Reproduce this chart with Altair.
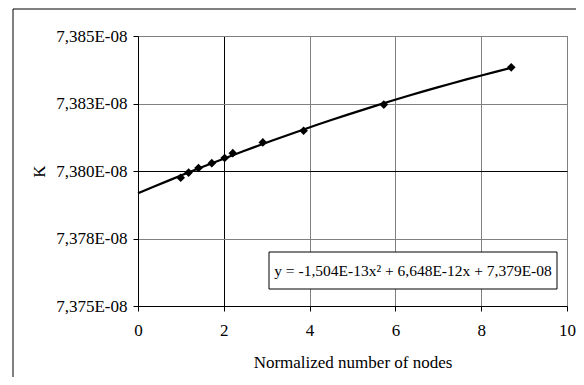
import altair as alt
import pandas as pd

# ---- data ----
nodes = [0.995, 1.18, 1.41, 1.72, 2.02, 2.21, 2.91, 3.86, 5.73, 8.70]
k_values = [7.37975e-08, 7.37994e-08, 7.38011e-08, 7.38029e-08, 7.38048e-08,
            7.38066e-08, 7.38106e-08, 7.38149e-08, 7.38246e-08, 7.38384e-08]
x_ticks = [0, 2, 4, 6, 8, 10]
y_ticks = [7.375e-08, 7.3775e-08, 7.38e-08, 7.3825e-08, 7.385e-08]
equation = "y = -1,504E-13x\u00b2 + 6,648E-12x + 7,379E-08"
x_title = "Normalized number of nodes"
y_title = "K"

FONT = "'Liberation Serif', 'DejaVu Serif', serif"
FS = 17
W, H = 429, 270

df = pd.DataFrame({"x": nodes, "k": k_values})

x_scale = alt.Scale(domain=[x_ticks[0], x_ticks[-1]], nice=False, zero=False)
y_scale = alt.Scale(domain=[y_ticks[0], y_ticks[-1]], nice=False, zero=False)

x_axis = alt.Axis(
    values=x_ticks, title=x_title, grid=True,
    gridColor={"condition": {"test": "datum.value === 2", "value": "#000000"}, "value": "#808080"},
    gridWidth=1, domainColor="#000000", tickColor="#000000", tickSize=5,
    labelFont=FONT, labelFontSize=FS, labelColor="#000000", labelPadding=11,
    labelFlush=False, labelOverlap=False,
    titleFont=FONT, titleFontSize=FS, titleFontWeight="normal", titleColor="#000000",
    titleX=W / 2, titleY=56, titleBaseline="middle", titleAlign="center",
)
y_axis = alt.Axis(
    values=y_ticks, title=y_title, grid=True,
    gridColor={"condition": {"test": "abs(datum.value - 7.38e-8) < 1e-12", "value": "#000000"}, "value": "#808080"},
    gridWidth=1, domainColor="#000000", tickColor="#000000", tickSize=5,
    labelExpr="replace(format(datum.value * 1e8 + 1e-9, '.3f'), '.', ',') + 'E-08'",
    labelFont=FONT, labelFontSize=FS, labelColor="#000000", labelPadding=6,
    labelFlush=False, labelOverlap=False,
    titleFont=FONT, titleFontSize=FS, titleFontWeight="normal", titleColor="#000000",
    titleX=-99, titleY=H / 2, titleAngle=270, titleBaseline="middle", titleAlign="center",
)

base = alt.Chart(df)

trend = base.transform_regression(
    "x", "k", method="poly", order=2, extent=[0, nodes[-1]]
).mark_line(color="#000000", strokeWidth=2.2).encode(
    x=alt.X("x:Q", scale=x_scale, axis=x_axis),
    y=alt.Y("k:Q", scale=y_scale, axis=y_axis),
)

points = base.mark_point(shape="diamond", filled=True, size=75, color="#000000", opacity=1).encode(
    x=alt.X("x:Q", scale=x_scale),
    y=alt.Y("k:Q", scale=y_scale),
)

eq_df = pd.DataFrame({"eq": [equation]})
eq_box = alt.Chart(eq_df).mark_rect(fill="#ffffff", stroke="#000000", strokeWidth=1).encode(
    x=alt.value(131), x2=alt.value(419), y=alt.value(216), y2=alt.value(253)
)
eq_text = alt.Chart(eq_df).mark_text(
    font=FONT, fontSize=15.5, color="#000000", align="center", baseline="middle"
).encode(text="eq:N", x=alt.value(275), y=alt.value(235))

frame_left = alt.Chart(eq_df).mark_rule(color="#000000", strokeWidth=1).encode(
    x=alt.value(-125), y=alt.value(-27), y2=alt.value(360)
)
frame_top = alt.Chart(eq_df).mark_rule(color="#000000", strokeWidth=1).encode(
    x=alt.value(-125), x2=alt.value(460), y=alt.value(-27)
)

chart = alt.layer(trend, points, eq_box, eq_text, frame_left, frame_top).properties(
    width=W, height=H,
    autosize=alt.AutoSizeParams(type="none"),
    padding={"left": 130, "top": 28, "right": 9, "bottom": 71},
    background="#ffffff",
).configure_view(stroke="#808080", strokeWidth=1)

chart.save("out.html", embed_options={"renderer": "svg", "actions": False})
